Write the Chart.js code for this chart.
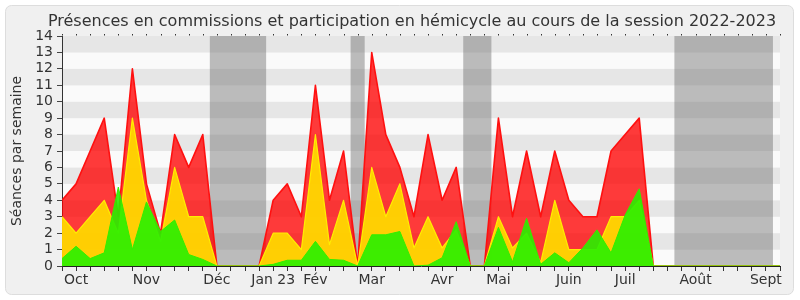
<!DOCTYPE html>
<html>
<head>
<meta charset="utf-8">
<script src="https://cdn.jsdelivr.net/npm/chart.js@4.4.0/dist/chart.umd.min.js"></script>
<style>
  html, body { margin: 0; padding: 0; background: #fff; }
  canvas { display: block; }
</style>
</head>
<body>
<canvas id="chart" width="800" height="300"></canvas>
<script>
// semaines de la session (0 = fin septembre 2022)
const weeks = [0,1,2,3,4,5,6,7,8,9,10,11,12,13,14,15,16,17,18,19,20,21,22,23,24,25,
               26,27,28,29,30,31,32,33,34,35,36,37,38,39,40,41,42,43,44,45,46,47,48,49,50,51];

// rouge : présences en commission
const presences = [4,5,7,9,3,12,5,2,8,6,8, 0,0,0,0, 4,5,3,11,4,7, 0, 13,8,6,3,8,4,6, 0,0,
                   9,3,7,3,7,4,3,3,7,8,9, 0,0,0,0,0,0,0,0,0,0];
// jaune : interventions en commission
const interventions = [3,2,3,4,2,9,4,1.5,6,3,3, 0,0,0,0, 2,2,1,8,1.3,4, 0, 6,3,5,1.1,3,1.1,2.2, 0,0,
                       3,1.1,2,0.2,4,1,1,1,3,3,4, 0,0,0,0,0,0,0,0,0,0];
// vert : participation en hémicycle
const hemicycle = [0.45,1.2,0.45,0.8,4.8,1,3.9,2.1,2.8,0.7,0.4, 0,0,0,0, 0.1,0.35,0.35,1.5,0.4,0.35, 0,
                   1.9,1.9,2.1,0,0.05,0.5,2.7, 0,0, 2.35,0.25,2.9,0.1,0.8,0.2,1.1,2.2,0.8,3.1,4.7,
                   0,0,0,0,0,0,0,0,0,0];

const monthLabels = ['Oct','Nov','Déc','Jan 23','Fév','Mar','Avr','Mai','Juin','Juil','Août','Sept'];
const monthWeeks = [1,6,11,15,18,22,27,31,36,40,45,50];

// vacances parlementaires (première et dernière semaine)
const vacances = [[11,14],[21,21],[29,30],[44,50]];

const titleText = 'Présences en commissions et participation en hémicycle au cours de la session 2022-2023';

Chart.defaults.font.family = '"DejaVu Sans", Verdana, sans-serif';
Chart.defaults.font.size = 14;
Chart.defaults.color = '#333';

const backdrop = {
  id: 'backdrop',
  beforeDraw(chart) {
    const {ctx, chartArea: a, scales: {x, y}} = chart;
    ctx.save();
    ctx.fillStyle = '#fff';
    ctx.fillRect(0, 0, chart.width, chart.height);
    ctx.beginPath();
    ctx.roundRect(5.5, 5.5, 788, 289, 6);
    ctx.fillStyle = '#f0f0f0';
    ctx.fill();
    ctx.strokeStyle = '#dddddd';
    ctx.lineWidth = 1;
    ctx.stroke();

    for (let v = 0; v < 14; v++) {
      ctx.fillStyle = v % 2 ? '#e6e6e6' : '#fafafa';
      const top = y.getPixelForValue(v + 1);
      const bot = y.getPixelForValue(v);
      ctx.fillRect(a.left, top, a.right - a.left, bot - top);
    }

    ctx.fillStyle = 'rgba(110,110,110,0.45)';
    vacances.forEach(([s, e]) => {
      const l = x.getPixelForValue(s - 0.5);
      const r = x.getPixelForValue(e + 0.5);
      ctx.fillRect(l, a.top, r - l, a.bottom - a.top);
    });

    // petits repères hebdomadaires en haut du graphique
    ctx.fillStyle = '#333';
    weeks.forEach(w => {
      const px = Math.round(x.getPixelForValue(w));
      ctx.fillRect(px, a.top - 2, 1, 1.5);
    });
    ctx.restore();
  },
  afterDraw(chart) {
    const ctx = chart.ctx;
    ctx.save();
    ctx.font = '16px "DejaVu Sans", Verdana, sans-serif';
    ctx.fillStyle = '#333';
    ctx.textAlign = 'center';
    ctx.textBaseline = 'alphabetic';
    ctx.fillText(titleText, 412, 26);
    ctx.restore();
  }
};

new Chart(document.getElementById('chart'), {
  type: 'line',
  data: {
    labels: weeks,
    datasets: [
      {
        label: 'Participation en hémicycle',
        data: hemicycle,
        borderColor: '#33ee00',
        backgroundColor: 'rgba(40,240,0,0.9)',
        borderWidth: 1,
        fill: 'origin'
      },
      {
        label: 'Interventions en commission',
        data: interventions,
        borderColor: '#ffee00',
        backgroundColor: 'rgba(255,215,0,0.95)',
        borderWidth: 1.2,
        fill: 'origin'
      },
      {
        label: 'Présences en commission',
        data: presences,
        borderColor: '#ff1010',
        backgroundColor: 'rgba(255,0,0,0.77)',
        borderWidth: 1.6,
        fill: 'origin'
      }
    ]
  },
  options: {
    responsive: false,
    animation: false,
    layout: { padding: { top: 36, right: 20, left: 0, bottom: 0 } },
    elements: { point: { radius: 0 }, line: { tension: 0, borderJoinStyle: 'round' } },
    plugins: { legend: { display: false }, tooltip: { enabled: false } },
    scales: {
      x: {
        type: 'linear',
        min: 0,
        max: 51,
        afterBuildTicks: s => { s.ticks = weeks.map(v => ({value: v})); },
        afterFit: s => { s.height = 34; },
        grid: { drawOnChartArea: false, tickLength: 5, tickColor: '#333' },
        border: { color: '#222' },
        ticks: {
          autoSkip: false,
          maxRotation: 0,
          padding: 1,
          callback: v => {
            const k = monthWeeks.indexOf(v);
            return k >= 0 ? monthLabels[k] : '';
          }
        }
      },
      y: {
        min: 0,
        max: 14,
        afterFit: s => { s.width = 62; },
        ticks: { stepSize: 1, padding: 4, autoSkip: false },
        grid: { drawOnChartArea: false, tickLength: 5, tickColor: '#444' },
        border: { color: '#333' },
        title: {
          display: true,
          text: 'Séances par semaine',
          padding: { top: 9, bottom: 0 }
        }
      }
    }
  },
  plugins: [backdrop]
});
</script>
</body>
</html>
